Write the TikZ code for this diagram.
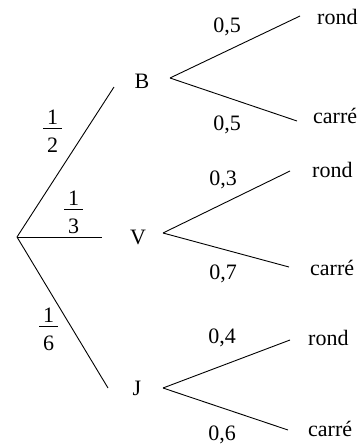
\documentclass[tikz,border=0pt]{standalone}
\usepackage{fontspec}
\setmainfont{Liberation Serif}
\begin{document}
\begin{tikzpicture}[x=1pt,y=-1pt,
  lbl/.style={inner sep=0pt,font=\fontsize{22}{26}\selectfont},
  edge/.style={line width=0.9pt,black}]
\useasboundingbox (0,0) rectangle (360,447);
% root and first level ends
\coordinate (root) at (17,237);
\coordinate (eB) at (114,87);
\coordinate (eV) at (102,237);
\coordinate (eJ) at (108,388);
\node[lbl] (B) at (142,81) {B};
\node[lbl] (V) at (138,237) {V};
\node[lbl] (J) at (137,388) {J};
\draw[edge] (root) -- (eB);
\draw[edge] (root) -- (eV);
\draw[edge] (root) -- (eJ);
% fractions
\coordinate (f2) at (52.5,128);
\coordinate (f3) at (73.5,209);
\coordinate (f6) at (48.5,326);
\foreach \f/\d in {f2/2,f3/3,f6/6}{
  \node[lbl,anchor=base] (\f n) at ([yshift=4pt]\f) {1};
  \node[lbl,anchor=north] (\f d) at ([yshift=-10pt]\f) {\d};
  \draw[line width=0.8pt] ([xshift=-9.5pt]\f) -- ([xshift=9.5pt]\f);
}
% second level
\coordinate (sB) at (170,78);
\coordinate (sV) at (163,233);
\coordinate (sJ) at (163,388);
\coordinate (Br) at (300,16);
\coordinate (Bc) at (297,121);
\coordinate (Vr) at (290,171);
\coordinate (Vc) at (289,267);
\coordinate (Jr) at (290,340);
\coordinate (Jc) at (288,430);
\draw[edge] (sB) -- (Br);
\draw[edge] (sB) -- (Bc);
\draw[edge] (sV) -- (Vr);
\draw[edge] (sV) -- (Vc);
\draw[edge] (sJ) -- (Jr);
\draw[edge] (sJ) -- (Jc);
\node[lbl,anchor=west] (tBr) at (317,17) {rond};
\node[lbl,anchor=west] (tBc) at (313,116) {carré};
\node[lbl,anchor=west] (tVr) at (312,170) {rond};
\node[lbl,anchor=west] (tVc) at (310,268) {carré};
\node[lbl,anchor=west] (tJr) at (308,338) {rond};
\node[lbl,anchor=west] (tJc) at (308,429) {carré};
\node[lbl] (pBr) at (227,27) {0,5};
\node[lbl] (pBc) at (227,125) {0,5};
\node[lbl] (pVr) at (223,180) {0,3};
\node[lbl] (pVc) at (223,274) {0,7};
\node[lbl] (pJr) at (222,338) {0,4};
\node[lbl] (pJc) at (222,435) {0,6};
\end{tikzpicture}
\end{document}
